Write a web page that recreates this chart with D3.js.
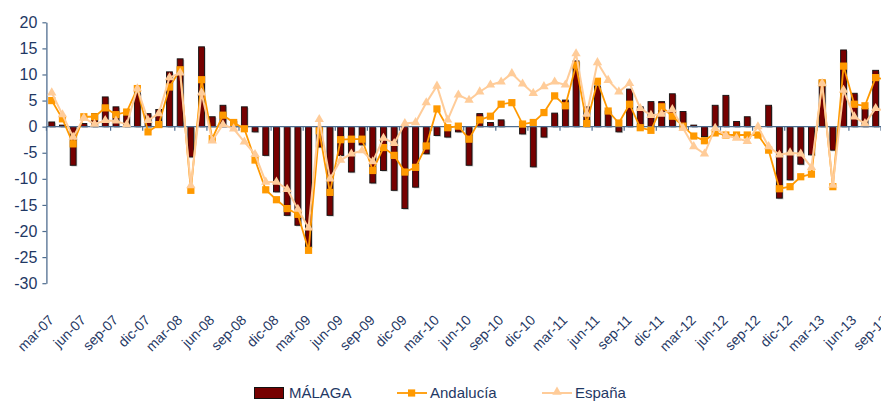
<!DOCTYPE html>
<html><head><meta charset="utf-8">
<script src="https://cdn.jsdelivr.net/npm/d3@7"></script>
<style>
html,body{margin:0;padding:0;background:#fff;}
svg{display:block;font-family:"Liberation Sans",Arial,sans-serif;}
</style></head>
<body>
<svg id="chart" width="881" height="401"></svg>
<script>
const categories = [
"mar-07","abr-07","may-07","jun-07","jul-07","ago-07","sep-07","oct-07","nov-07","dic-07",
"ene-08","feb-08","mar-08","abr-08","may-08","jun-08","jul-08","ago-08","sep-08","oct-08","nov-08","dic-08",
"ene-09","feb-09","mar-09","abr-09","may-09","jun-09","jul-09","ago-09","sep-09","oct-09","nov-09","dic-09",
"ene-10","feb-10","mar-10","abr-10","may-10","jun-10","jul-10","ago-10","sep-10","oct-10","nov-10","dic-10",
"ene-11","feb-11","mar-11","abr-11","may-11","jun-11","jul-11","ago-11","sep-11","oct-11","nov-11","dic-11",
"ene-12","feb-12","mar-12","abr-12","may-12","jun-12","jul-12","ago-12","sep-12","oct-12","nov-12","dic-12",
"ene-13","feb-13","mar-13","abr-13","may-13","jun-13","jul-13","ago-13","sep-13"];

const malaga = [0.9,0.3,-7.4,0.6,2.5,5.7,3.8,2.2,6.5,2.5,3.3,10.5,13.0,-5.8,15.3,1.9,4.1,1.3,3.8,-1.0,
-5.5,-12.5,-17.0,-18.9,-23.0,-3.9,-17.0,-5.5,-8.7,-3.5,-10.8,-8.4,-12.2,-15.7,-11.6,-5.2,-1.7,-2.0,-1.0,-7.4,
2.5,0.8,1.3,0.0,-1.4,-7.7,-2.0,2.6,5.1,12.6,3.8,7.8,3.0,-1.0,7.2,3.8,4.8,4.8,6.3,2.9,
0.3,-1.9,4.1,6.0,1.0,1.9,0.0,4.1,-13.7,-10.2,-7.2,-5.4,8.9,-4.5,14.7,6.4,3.5,10.8,5.0];

const andalucia = [5.0,1.5,-3.3,1.9,1.9,3.6,2.3,2.8,7.3,-1.0,0.4,7.6,10.9,-12.2,9.0,-2.3,2.2,0.8,-0.4,-6.4,
-12.1,-14.0,-15.7,-16.8,-23.7,-0.8,-12.6,-2.5,-2.4,-2.4,-8.4,-4.0,-5.5,-8.7,-7.8,-3.7,3.4,-0.2,0.1,-2.4,
1.3,2.0,4.3,4.6,0.5,0.8,2.7,5.9,4.0,11.8,0.6,8.7,3.0,0.7,4.3,-0.2,-0.7,3.8,2.0,0.1,
-1.8,-2.7,-1.2,-1.6,-1.6,-1.6,-1.6,-4.5,-11.9,-11.5,-9.6,-9.1,8.4,-11.5,11.6,4.3,4.0,9.4,9.0];

const espana = [6.5,2.3,-2.0,1.7,0.5,1.2,1.1,0.4,7.3,1.2,2.5,9.4,10.3,-11.3,6.5,-2.7,0.4,-0.4,-2.9,-5.3,
-10.6,-10.6,-12.0,-15.8,-19.4,1.4,-10.0,-6.4,-5.2,-4.6,-6.7,-2.2,-3.2,0.6,0.8,4.6,7.8,1.3,6.1,5.1,
6.7,8.0,8.6,10.2,8.2,6.4,7.7,8.6,8.0,14.0,2.4,12.3,8.9,6.7,8.3,3.5,2.2,2.4,3.3,-0.3,
-3.8,-5.2,-0.3,-1.7,-2.2,-2.8,0.0,-3.8,-5.4,-5.0,-5.2,-7.8,8.3,-11.2,7.0,1.9,0.6,3.5,3.0];

const yTicks = [-30,-25,-20,-15,-10,-5,0,5,10,15,20];
const seriesNames = ["MÁLAGA","Andalucía","España"];

const textColor = "#1F3864";
const axisColor = "#4F6D8F";
const cMalaga = "#760000";
const cAnd = "#FF9900";
const cEsp = "#FFCC99";

const svg = d3.select("#chart");
const left = 46.4, step = 10.7;
const x = d3.scaleBand().domain(categories)
  .range([left, left + categories.length * step])
  .paddingInner(0.45).paddingOuter(0.225);
const cx = c => x(c) + x.bandwidth() / 2;
const y = d3.scaleLinear().domain([-30, 20]).range([283.2, 22.3]);

// y axis
const yAxis = svg.append("g").attr("transform", `translate(${left},0)`)
  .call(d3.axisLeft(y).tickValues(yTicks).tickSize(4).tickSizeOuter(0).tickPadding(5).tickFormat(d => String(d)));
yAxis.select(".domain").attr("stroke", axisColor).attr("stroke-width", 1.3);
yAxis.selectAll(".tick line").attr("stroke", axisColor).attr("stroke-width", 1.2);
yAxis.selectAll(".tick text").attr("fill", textColor).attr("font-size", 16)
  .attr("font-family", "'Liberation Sans',Arial,sans-serif");

// bars (shadow + bar)
const bars = svg.append("g");
bars.selectAll("rect.sh").data(categories).join("rect").attr("class", "sh")
  .attr("x", c => x(c) + 1.2)
  .attr("y", (c, i) => Math.min(y(0), y(malaga[i])) + 1.2)
  .attr("width", x.bandwidth())
  .attr("height", (c, i) => Math.abs(y(malaga[i]) - y(0)))
  .attr("fill", "#9a9a9a").attr("opacity", 0.55);
bars.selectAll("rect.b").data(categories).join("rect").attr("class", "b")
  .attr("x", c => x(c))
  .attr("y", (c, i) => Math.min(y(0), y(malaga[i])))
  .attr("width", x.bandwidth())
  .attr("height", (c, i) => Math.abs(y(malaga[i]) - y(0)))
  .attr("fill", cMalaga).attr("stroke", "#111").attr("stroke-width", 0.9);

// x axis at zero
const xg = svg.append("g");
xg.append("line").attr("x1", left).attr("x2", left + categories.length * step)
  .attr("y1", y(0)).attr("y2", y(0)).attr("stroke", axisColor).attr("stroke-width", 1.3);
const tickCats = categories.filter((c, i) => i % 3 === 0);
xg.selectAll("line.t").data(tickCats).join("line").attr("class", "t")
  .attr("x1", c => cx(c) - step / 2).attr("x2", c => cx(c) - step / 2)
  .attr("y1", y(0)).attr("y2", y(0) + 4).attr("stroke", axisColor).attr("stroke-width", 1.2);
svg.append("g").selectAll("text").data(tickCats).join("text")
  .attr("transform", c => `translate(${cx(c) + 3},321) rotate(-45)`)
  .attr("text-anchor", "end").attr("fill", textColor).attr("font-size", 14)
  .text(c => c);

// lines
const lineGen = arr => d3.line().x((d, i) => cx(categories[i])).y(d => y(d))(arr);
svg.append("path").attr("d", lineGen(andalucia)).attr("fill", "none")
  .attr("stroke", cAnd).attr("stroke-width", 1.8);
svg.append("g").selectAll("rect").data(andalucia).join("rect")
  .attr("x", (d, i) => cx(categories[i]) - 3.6).attr("y", d => y(d) - 3.6)
  .attr("width", 7.2).attr("height", 7.2).attr("fill", cAnd);

const tri = d3.symbol().type(d3.symbolTriangle).size(38);
svg.append("path").attr("d", lineGen(espana)).attr("fill", "none")
  .attr("stroke", cEsp).attr("stroke-width", 2);
svg.append("g").selectAll("path").data(espana).join("path")
  .attr("transform", (d, i) => `translate(${cx(categories[i])},${y(d)})`)
  .attr("d", tri).attr("fill", cEsp);

// legend
const lg = svg.append("g").attr("font-size", 15).attr("fill", textColor);
lg.append("rect").attr("x", 254.5).attr("y", 387.5).attr("width", 29).attr("height", 11)
  .attr("fill", cMalaga).attr("stroke", "#111").attr("stroke-width", 1);
lg.append("text").attr("x", 289).attr("y", 398).attr("fill", textColor).text(seriesNames[0]);
lg.append("line").attr("x1", 397).attr("x2", 427).attr("y1", 393).attr("y2", 393)
  .attr("stroke", cAnd).attr("stroke-width", 1.8);
lg.append("rect").attr("x", 408).attr("y", 389.4).attr("width", 7.2).attr("height", 7.2).attr("fill", cAnd);
lg.append("text").attr("x", 430).attr("y", 398).attr("fill", textColor).text(seriesNames[1]);
lg.append("line").attr("x1", 542).attr("x2", 572).attr("y1", 393).attr("y2", 393)
  .attr("stroke", cEsp).attr("stroke-width", 2);
lg.append("path").attr("transform", "translate(557,392)").attr("d", tri).attr("fill", cEsp);
lg.append("text").attr("x", 575).attr("y", 398).attr("fill", textColor).text(seriesNames[2]);
</script>
</body></html>
